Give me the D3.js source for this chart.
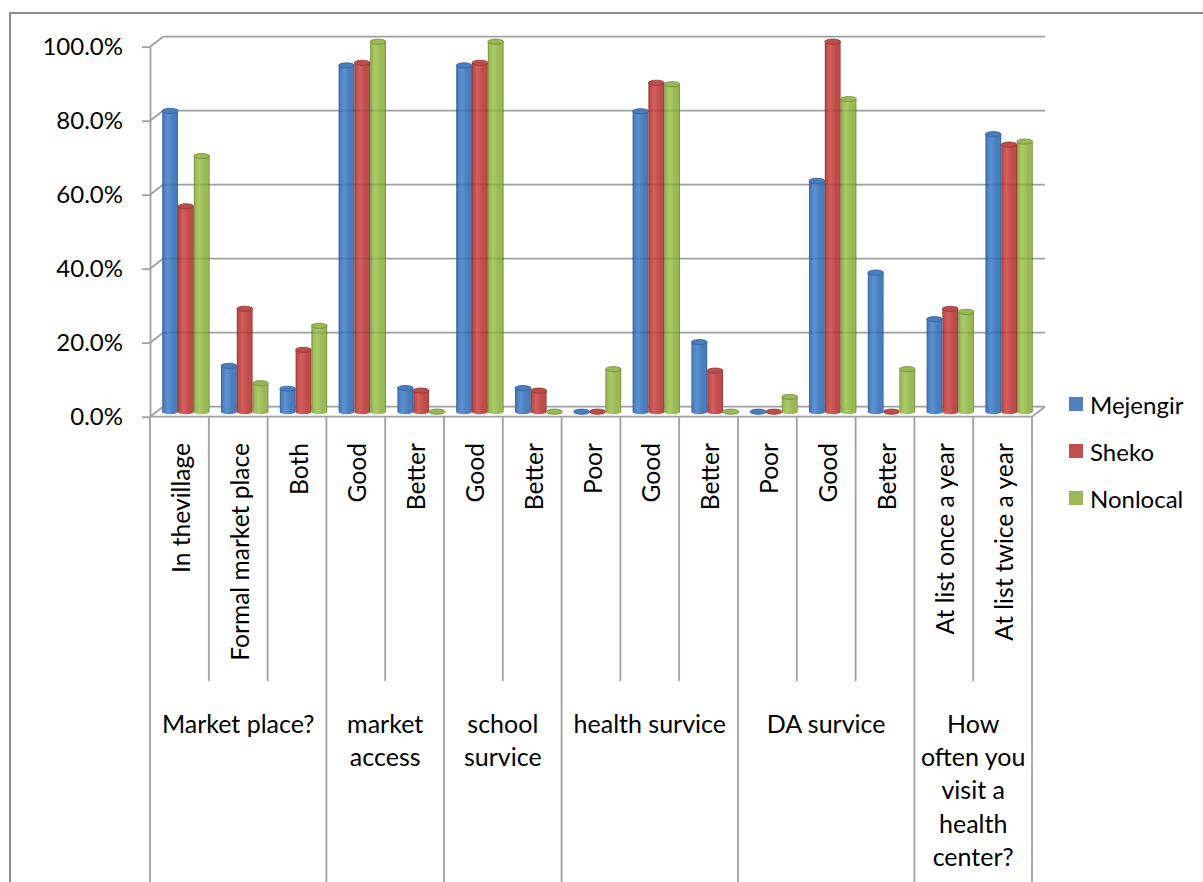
<!DOCTYPE html>
<html>
<head>
<meta charset="utf-8">
<script src="https://cdn.jsdelivr.net/npm/d3@7"></script>
<style>
  html, body { margin: 0; padding: 0; background: #fff; }
  svg { display: block; }
  text { font-family: Lato, "Open Sans", sans-serif; fill: #000; }
</style>
</head>
<body>
<svg id="chart" width="1203" height="882"></svg>
<script>
// Sub-category labels along the x axis (one per column cluster)
const categories = ["In thevillage", "Formal market place", "Both", "Good", "Better", "Good", "Better",
  "Poor", "Good", "Better", "Poor", "Good", "Better", "At list once a year", "At list twice a year"];

// Question groups: label lines and how many sub-categories each spans
const groupLabels = [["Market place?"], ["market", "access"], ["school", "survice"], ["health survice"],
  ["DA survice"], ["How", "often you", "visit a", "health", "center?"]];
const groupSizes = [3, 2, 2, 3, 3, 2];

const seriesNames = ["Mejengir", "Sheko", "Nonlocal"];

// Percent of respondents per sub-category
const mejengir = [81.3, 12.4, 6.2, 93.6, 6.4, 93.6, 6.4, 0, 81.2, 18.8, 0, 62.4, 37.6, 25.0, 75.0];
const sheko    = [55.5, 27.8, 16.7, 94.3, 5.7, 94.3, 5.7, 0, 88.9, 11.1, 0, 100, 0, 27.8, 72.2];
const nonlocal = [69.1, 7.7, 23.2, 100, 0, 100, 0, 11.5, 88.5, 0, 4.0, 84.5, 11.5, 27.0, 73.0];

const yTicks = [0, 20, 40, 60, 80, 100];

const seriesValues = [mejengir, sheko, nonlocal];
const palette = {
  Mejengir: { dark: "#35609a", base: "#4a7dbb", light: "#5c92d4", legend: "#4f81bd" },
  Sheko:    { dark: "#8f3634", base: "#bd4d4a", light: "#d65f5c", legend: "#c0504d" },
  Nonlocal: { dark: "#718b3d", base: "#98b955", light: "#abcb66", legend: "#9bbb59" }
};

const svg = d3.select("#chart");
const gridColor = "#a0a0a0";

// 3-D box: front plane and back wall offset
const DX = 13, DY = -10;
const x = d3.scaleBand().domain(d3.range(categories.length)).range([150, 1032]).padding(0);
const y = d3.scaleLinear().domain([0, 100]).range([416.7, 46.7]);
const xInner = d3.scaleBand().domain(seriesNames).range([5.7, x.bandwidth() - 5.7]).padding(0);

// Gradients for the cylindrical columns
const defs = svg.append("defs");
seriesNames.forEach(name => {
  const c = palette[name];
  const g = defs.append("linearGradient").attr("id", "grad-" + name)
    .attr("x1", "0%").attr("x2", "100%").attr("y1", "0%").attr("y2", "0%");
  [[0, c.dark], [0.1, c.base], [0.35, c.light], [0.7, c.base], [0.9, c.base], [1, c.dark]]
    .forEach(([o, col]) => g.append("stop").attr("offset", o).attr("stop-color", col));
});

// Outer chart frame (top and left edges)
svg.append("path").attr("d", "M10,882 L10,13 L1203,13")
  .attr("fill", "none").attr("stroke", "#8c8c8c").attr("stroke-width", 2);

const grid = svg.append("g").attr("stroke", gridColor).attr("stroke-width", 1.8).attr("fill", "none");
const xLeft = x.range()[0], xRight = x.range()[1];

// Back-wall gridlines and side-wall diagonals
yTicks.forEach(t => {
  grid.append("line").attr("x1", xLeft + DX).attr("x2", xRight + DX)
    .attr("y1", y(t) + DY).attr("y2", y(t) + DY);
  grid.append("line").attr("x1", xLeft).attr("x2", xLeft + DX)
    .attr("y1", y(t)).attr("y2", y(t) + DY);
});
// Floor front edge and right corner
grid.append("line").attr("x1", xLeft).attr("x2", xRight).attr("y1", y(0)).attr("y2", y(0));
grid.append("line").attr("x1", xRight).attr("x2", xRight + DX).attr("y1", y(0)).attr("y2", y(0) + DY);

// Category dividers below the floor
const groupEnds = new Set([0]);
groupSizes.reduce((acc, n) => { groupEnds.add(acc + n); return acc + n; }, 0);
d3.range(categories.length + 1).forEach(i => {
  const xx = i < categories.length ? x(i) : xRight;
  grid.append("line").attr("x1", xx).attr("x2", xx)
    .attr("y1", y(0)).attr("y2", groupEnds.has(i) ? 882 : 681);
});

// Y axis on the front plane
const yAxis = svg.append("g").attr("transform", `translate(${xLeft},0)`)
  .call(d3.axisLeft(y).tickValues(yTicks).tickFormat(d => d.toFixed(1) + "%")
    .tickSize(8).tickSizeOuter(0).tickPadding(19));
yAxis.select(".domain").attr("stroke", gridColor).attr("stroke-width", 1.8);
yAxis.selectAll(".tick line").attr("stroke", gridColor).attr("stroke-width", 1.8);
yAxis.selectAll(".tick text").style("font-size", "24px").style("font-family", "Lato, sans-serif")
  .attr("fill", "#000");

// Cylindrical columns
const rx = xInner.bandwidth() / 2, ry = 2.6;
const bars = [];
categories.forEach((cat, i) => {
  seriesNames.forEach((name, s) => {
    const v = seriesValues[s][i];
    const x0 = x(i) + DX / 2 + xInner(name);
    bars.push({ name, v, x0, x1: x0 + xInner.bandwidth(), yTop: y(v) + DY / 2, yBot: y(0) + DY / 2 });
  });
});

const barG = svg.append("g");
bars.forEach(b => {
  const c = palette[b.name];
  barG.append("path")
    .attr("d", `M${b.x0},${b.yTop} L${b.x0},${b.yBot} A${rx},${ry} 0 0 0 ${b.x1},${b.yBot} L${b.x1},${b.yTop} Z`)
    .attr("fill", `url(#grad-${b.name})`);
  // faint back gridlines seen through the column
  yTicks.filter(t => t > 0 && y(t) + DY > b.yTop + ry).forEach(t => {
    barG.append("line").attr("x1", b.x0).attr("x2", b.x1)
      .attr("y1", y(t) + DY).attr("y2", y(t) + DY)
      .attr("stroke", "#000").attr("stroke-opacity", 0.1).attr("stroke-width", 2);
  });
  barG.append("ellipse").attr("cx", (b.x0 + b.x1) / 2).attr("cy", b.yTop)
    .attr("rx", rx).attr("ry", ry)
    .attr("fill", c.base).attr("stroke", c.dark).attr("stroke-width", 0.8);
});

// Rotated sub-category labels
svg.append("g").selectAll("text").data(categories).join("text")
  .attr("transform", (d, i) => `translate(${x(i) + x.bandwidth() / 2 + 1},443) rotate(-90)`)
  .attr("text-anchor", "end").attr("dominant-baseline", "central")
  .style("font-size", "24.6px").text(d => d);

// Group labels centred under their sub-categories
let start = 0;
groupLabels.forEach((lines, gi) => {
  const n = groupSizes[gi];
  const cx = (x(start) + (start + n < categories.length ? x(start + n) : xRight)) / 2;
  const t = svg.append("text").attr("text-anchor", "middle").style("font-size", "25px");
  lines.forEach((ln, li) => {
    t.append("tspan").attr("x", cx).attr("y", 723 + li * 33.2).attr("dominant-baseline", "central").text(ln);
  });
  start += n;
});

// Legend
const legend = svg.append("g").attr("transform", "translate(1069,0)");
seriesNames.forEach((name, i) => {
  const cy = 404 + i * 47;
  legend.append("rect").attr("x", 0).attr("y", cy - 7).attr("width", 14).attr("height", 14)
    .attr("fill", palette[name].legend);
  legend.append("text").attr("x", 21).attr("y", cy).attr("dominant-baseline", "central")
    .style("font-size", "24px").text(name);
});
</script>
</body>
</html>
